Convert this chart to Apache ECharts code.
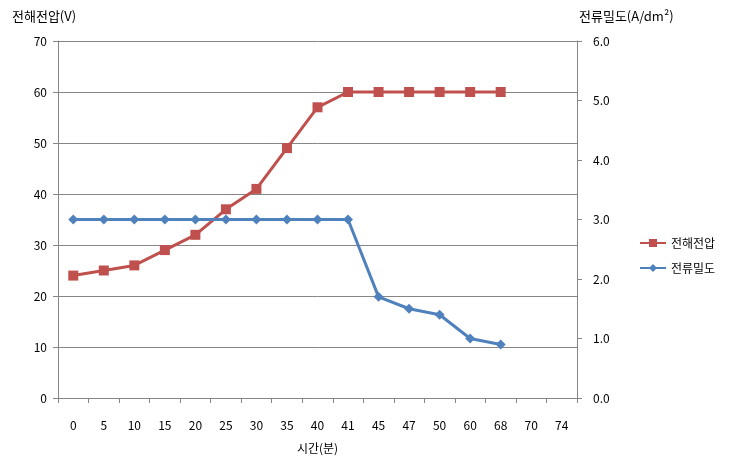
<!DOCTYPE html>
<html><head><meta charset="utf-8">
<script src="https://cdn.jsdelivr.net/npm/echarts@6/dist/echarts.min.js"></script>
<style>html,body{margin:0;padding:0;background:#fff}#c{width:730px;height:463px}</style>
</head><body><div id="c"></div>
<script>
const categories = ['0','5','10','15','20','25','30','35','40','41','45','47','50','60','68','70','74'];
const voltage = [24,25,26,29,32,37,41,49,57,60,60,60,60,60,60,null,null];
const density = [3.0,3.0,3.0,3.0,3.0,3.0,3.0,3.0,3.0,3.0,1.7,1.5,1.4,1.0,0.9,null,null];
const leftTicks = {min:0,max:70,interval:10};
const rightTicks = {min:0,max:6,interval:1};

const font = '"Noto Sans CJK KR", "Noto Sans", sans-serif';
const chart = echarts.init(document.getElementById('c'));
chart.setOption({
  animation:false,
  textStyle:{fontFamily:font},
  grid:{left:58,right:153,top:41,bottom:65},
  legend:{
    orient:'vertical', left:634, top:232, itemGap:13,
    itemWidth:26, itemHeight:10,
    textStyle:{fontFamily:font,fontSize:12,color:'#000'},
    data:['전해전압','전류밀도']
  },
  xAxis:{
    type:'category', data:categories, boundaryGap:true,
    name:'시간(분)', nameLocation:'middle', nameGap:44,
    nameTextStyle:{fontFamily:font,fontSize:12,color:'#000'},
    axisLine:{lineStyle:{color:'#868686'}},
    axisTick:{show:true,length:5,lineStyle:{color:'#868686'}},
    axisLabel:{color:'#000',fontSize:12,margin:21,fontFamily:font}
  },
  yAxis:[{
    type:'value', min:leftTicks.min, max:leftTicks.max, interval:leftTicks.interval,
    name:'전해전압(V)', nameLocation:'end', nameGap:18,
    nameTextStyle:{fontFamily:font,fontSize:13,color:'#000',align:'left',padding:[0,0,0,-46]},
    axisLine:{show:true,lineStyle:{color:'#868686'}},
    axisTick:{show:true,length:5,lineStyle:{color:'#868686'}},
    splitLine:{lineStyle:{color:'#868686'}},
    axisLabel:{color:'#000',fontSize:12,margin:11,fontFamily:font}
  },{
    type:'value', min:rightTicks.min, max:rightTicks.max, interval:rightTicks.interval,
    name:'전류밀도(A/dm²)', nameLocation:'end', nameGap:18,
    nameTextStyle:{fontFamily:font,fontSize:13,color:'#000',align:'left',padding:[0,0,0,2]},
    position:'right',
    axisLine:{show:true,lineStyle:{color:'#868686'}},
    axisTick:{show:true,length:5,lineStyle:{color:'#868686'}},
    splitLine:{show:false},
    axisLabel:{color:'#000',fontSize:12,margin:16,fontFamily:font,formatter:v=>v.toFixed(1)}
  }],
  series:[{
    name:'전해전압', type:'line', yAxisIndex:0, data:voltage,
    symbol:'rect', symbolSize:10,
    lineStyle:{color:'#C0504D',width:3},
    itemStyle:{color:'#C0504D'}
  },{
    name:'전류밀도', type:'line', yAxisIndex:1, data:density,
    symbol:'diamond', symbolSize:10,
    lineStyle:{color:'#4F81BD',width:3},
    itemStyle:{color:'#4F81BD'}
  }]
});
</script></body></html>
